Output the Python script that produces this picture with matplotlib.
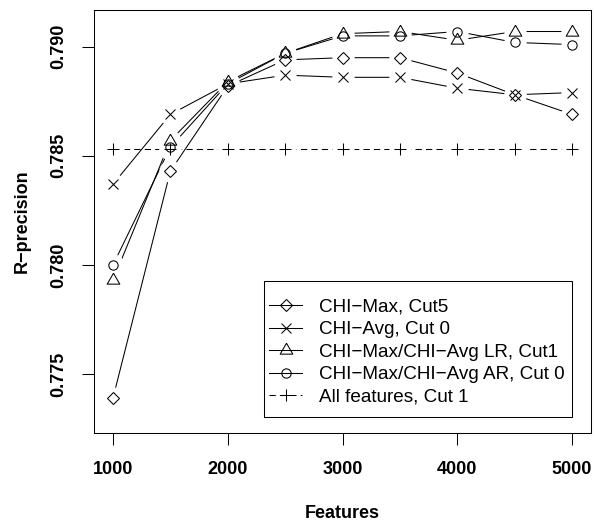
import numpy as np
import matplotlib.pyplot as plt
from matplotlib.lines import Line2D
from matplotlib.patches import Rectangle

plt.rcParams['font.family'] = ['Liberation Sans', 'DejaVu Sans']

features = [1000, 1500, 2000, 2500, 3000, 3500, 4000, 4500, 5000]
chi_max = [0.7739, 0.7843, 0.7882, 0.7894, 0.7895, 0.7895, 0.7888, 0.7878, 0.7869]
chi_avg = [0.7837, 0.7869, 0.7883, 0.7887, 0.7886, 0.7886, 0.7881, 0.7878, 0.7879]
chi_lr = [0.7793, 0.7857, 0.7884, 0.7897, 0.7906, 0.7907, 0.7903, 0.7907, 0.7907]
chi_ar = [0.7800, 0.7854, 0.7883, 0.7897, 0.7905, 0.7905, 0.7907, 0.7902, 0.7901]
all_feat = [0.7853] * 9

labels = ['CHI\u2212Max, Cut5', 'CHI\u2212Avg, Cut 0',
          'CHI\u2212Max/CHI\u2212Avg LR, Cut1', 'CHI\u2212Max/CHI\u2212Avg AR, Cut 0',
          'All features, Cut 1']

# equilateral triangle like R pch=2
tri = [(0, 1), (-0.866, -0.5), (0.866, -0.5), (0, 1)]

series = [
    (chi_max, 'D', 6.3, '-'),
    (chi_avg, 'x', 7.2, '-'),
    (chi_lr, tri, 10.5, '-'),
    (chi_ar, 'o', 6.7, '-'),
    (all_feat, '+', 8.4, (0, (6, 4))),
]

fig = plt.figure(figsize=(5.95, 5.21), dpi=100)
ax = fig.add_axes([0.1585, 0.1695, 0.8343, 0.8119])

lw = 0.75
# lines first, then white gaps (R type="b"), then markers
for y, m, ms, ls in series:
    ax.plot(features, y, color='black', lw=lw, linestyle=ls, zorder=1)
for y, m, ms, ls in series:
    ax.plot(features, y, linestyle='none', marker='o', ms=16, mfc='white',
            mec='none', zorder=2)
for y, m, ms, ls in series:
    ax.plot(features, y, linestyle='none', marker=m, ms=ms, mfc='none',
            mec='black', mew=lw, zorder=3)

ax.set_xlim(837, 5163)
ax.set_ylim(0.77231, 0.79170)
ax.set_xticks([1000, 2000, 3000, 4000, 5000])
ax.set_yticks([0.775, 0.780, 0.785, 0.790])
ax.set_xticklabels(['1000', '2000', '3000', '4000', '5000'],
                   fontsize=13, fontweight='bold')
ax.set_yticklabels(['0.775', '0.780', '0.785', '0.790'], fontsize=13,
                   fontweight='bold', rotation=90, va='center')
ax.tick_params(direction='out', length=8.5, width=lw, pad=11)
ax.tick_params(axis='x', pad=12)
for s in ax.spines.values():
    s.set_linewidth(lw)

ax.set_xlabel('Features', fontsize=13, fontweight='bold', va='center')
ax.set_ylabel('R\u2212precision', fontsize=13, fontweight='bold', va='center')
ax.xaxis.set_label_coords(0.5, -0.192)
ax.yaxis.set_label_coords(-0.1457, 0.5)

handles = []
for y, m, ms, ls in series:
    handles.append(Line2D([], [], color='black', lw=lw, linestyle=ls, marker=m,
                          ms=ms, mfc='none', mec='black', mew=lw))
# legend box drawn separately, R-style
ax.add_patch(Rectangle((0.3425, 0.0364), 0.6204, 0.3229, transform=ax.transAxes,
                       facecolor='white', edgecolor='black', lw=lw, zorder=4))
leg = ax.legend(handles, labels, loc='upper left', bbox_to_anchor=(0.352, 0.3172),
                borderaxespad=0, borderpad=0, fontsize=13.6, frameon=False,
                handlelength=1.76, handletextpad=0.9, labelspacing=0.28)
leg.set_zorder(5)

fig.savefig('out.png', dpi=100)
